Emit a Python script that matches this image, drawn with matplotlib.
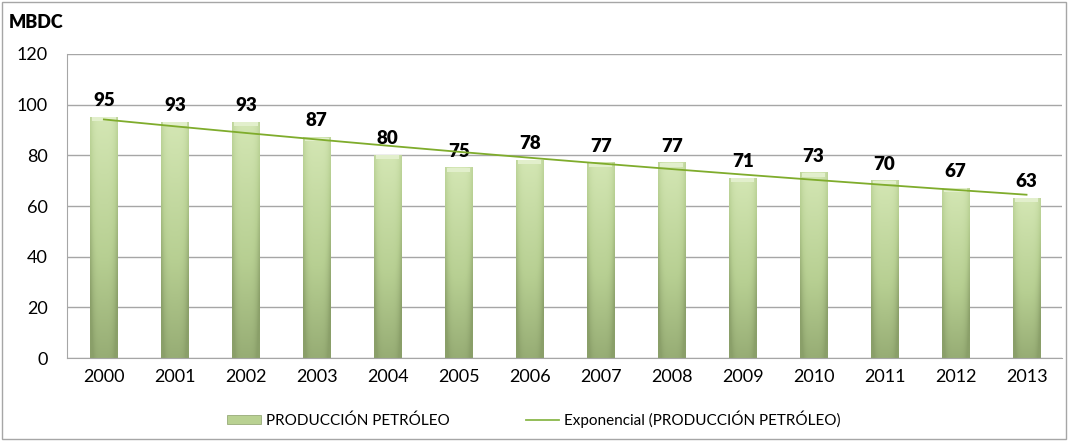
import numpy as np
import matplotlib.pyplot as plt
from matplotlib.patches import Rectangle, Patch
from matplotlib.lines import Line2D
from matplotlib.colors import LinearSegmentedColormap

years = ['2000', '2001', '2002', '2003', '2004', '2005', '2006',
         '2007', '2008', '2009', '2010', '2011', '2012', '2013']
produccion = [95, 93, 93, 87, 80, 75, 78, 77, 77, 71, 73, 70, 67, 63]

plt.rcParams['font.family'] = ['Lato', 'DejaVu Sans']

fig = plt.figure(figsize=(10.68, 4.41), dpi=100)
ax = fig.add_axes([0.0627, 0.188, 0.9317, 0.6896])

x = np.arange(len(years))
w = 0.39

# bar gradient: light top, darker bottom, shaded sides
cmap = LinearSegmentedColormap.from_list('g', ['#8a9f69', '#b7cf92', '#d3e6b3'])
ny, nx = 60, 20
vy = np.linspace(0, 1, ny)[:, None]
hx = np.linspace(-1, 1, nx)[None, :]
grad = vy * 0.85 + 0.15 - 0.35 * hx ** 4
grad = np.clip(grad, 0, 1)

bars = ax.bar(x, produccion, width=w, color='none', zorder=2)
for b, v in zip(bars, produccion):
    x0 = b.get_x()
    ax.imshow(grad, cmap=cmap, vmin=0, vmax=1, origin='lower', aspect='auto',
              extent=(x0, x0 + w, 0, v), zorder=2, interpolation='bilinear')
    ax.add_patch(Rectangle((x0 + 0.03, v - 1.4), w - 0.06, 1.4, facecolor='#e2efcc',
                           edgecolor='none', zorder=3))
    ax.text(b.get_x() + w / 2, v + 3.2, str(v), ha='center', va='bottom',
            fontsize=13.5, fontweight='heavy', color='black', zorder=4)

# exponential trend line
coef = np.polyfit(x, np.log(produccion), 1)
trend = np.exp(np.polyval(coef, x))
ax.plot(x, trend, color='#7fac2c', linewidth=1.3, zorder=5)

ax.set_xlim(-0.52, 13.5)
ax.set_ylim(0, 120)
ax.set_yticks(range(0, 121, 20))
ax.set_xticks(x)
ax.set_xticklabels(years)
ax.tick_params(axis='both', labelsize=13, length=0, pad=8)
ax.tick_params(axis='y', pad=14)
ax.yaxis.grid(True, color='#a6a6a6', linewidth=1)
ax.set_axisbelow(True)
for s in ['top', 'right']:
    ax.spines[s].set_visible(False)
ax.spines['left'].set_color('#a6a6a6')
ax.spines['bottom'].set_color('#a6a6a6')

fig.text(0.008, 0.95, 'MBDC', fontsize=13, fontweight='heavy', va='center')

handles = [Patch(facecolor='#b9d192', edgecolor='#8a9f69', linewidth=0.5),
           Line2D([], [], color='#8ab84a', linewidth=1.3)]
fig.legend(handles, ['PRODUCCIÓN PETRÓLEO', 'Exponencial (PRODUCCIÓN PETRÓLEO)'],
           loc='center', bbox_to_anchor=(0.5, 0.05), ncol=2, frameon=False,
           fontsize=11, handlelength=2.2, handleheight=0.5, handletextpad=0.3,
           columnspacing=5)

fig.patches.append(Rectangle((0.002, 0.004), 0.996, 0.992, transform=fig.transFigure,
                             fill=False, edgecolor='#a6a6a6', linewidth=1))

fig.savefig('out.png', dpi=100)
